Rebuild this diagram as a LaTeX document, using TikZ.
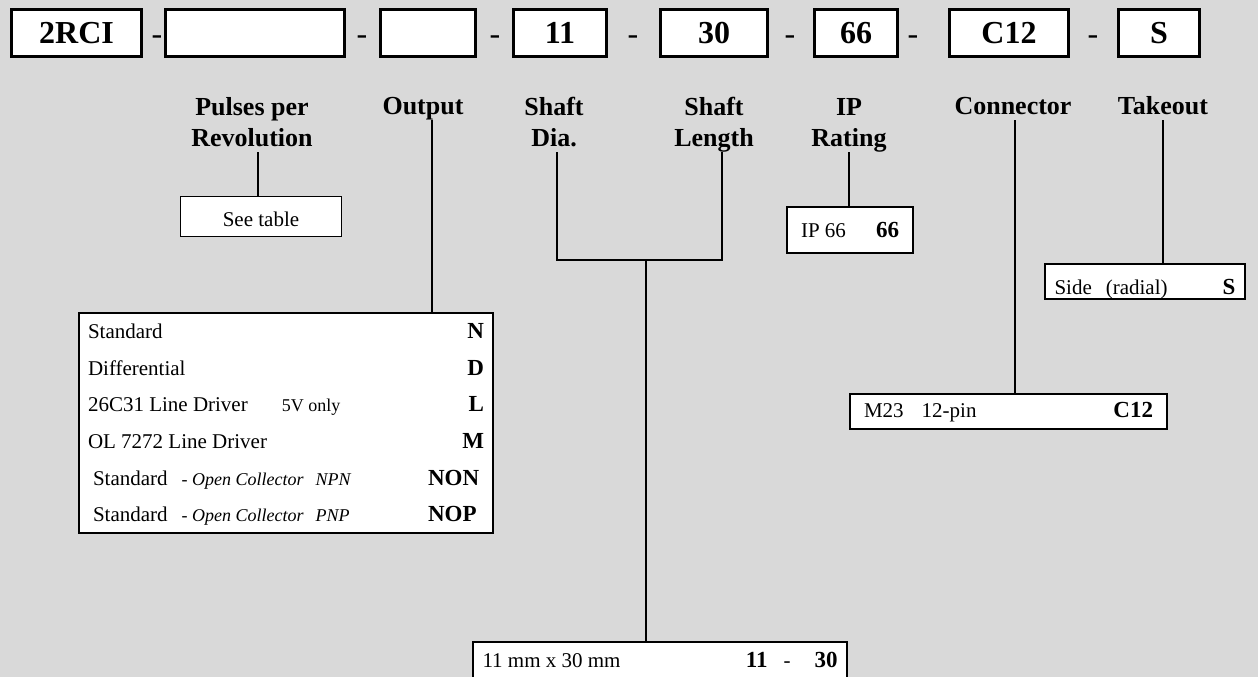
\documentclass[tikz,border=0pt]{standalone}
\usepackage{fontspec}
\setmainfont{Liberation Serif}
\usepackage{array}

\definecolor{sheet}{RGB}{217,217,217}
\newcommand{\setfs}[2]{\fontsize{#1}{#2}\selectfont}
\newcommand{\optcode}[1]{{\setfs{23}{25}\bfseries #1}}

\begin{document}
\begin{tikzpicture}[x=1pt, y=-1pt,
  codebox/.style={draw, line width=3.3pt, fill=white, inner sep=0,
    minimum height=46.5pt, font=\setfs{32}{38}\bfseries},
  sepmark/.style={anchor=base, inner sep=0, font=\setfs{32}{38}},
  fieldlbl/.style={anchor=south, align=center, inner sep=0, text depth=5pt,
    font=\setfs{26}{31}\bfseries},
  optbox/.style={draw, line width=2pt, fill=white, inner ysep=0,
    font=\setfs{21}{25}},
  link/.style={line width=2pt}]

  \fill[sheet] (0,0) rectangle (1258,677);
  \useasboundingbox (0,0) rectangle (1258,677);

  % order code
  \node[codebox, minimum width=130pt] (c1) at (76.5,33) {2RCI};
  \node[codebox, minimum width=179pt] (c2) at (255,33) {};
  \node[codebox, minimum width=95pt] (c3) at (428,33) {};
  \node[codebox, minimum width=93pt] (c4) at (560,33) {11};
  \node[codebox, minimum width=107pt] (c5) at (714,33) {30};
  \node[codebox, minimum width=83pt] (c6) at (856,33) {66};
  \node[codebox, minimum width=119pt] (c7) at (1009,33) {C12};
  \node[codebox, minimum width=81pt] (c8) at (1159,33) {S};

  \node[sepmark] (s1) at (157,45) {-};
  \node[sepmark] (s2) at (362,45) {-};
  \node[sepmark] (s3) at (495,45) {-};
  \node[sepmark] (s4) at (633,45) {-};
  \node[sepmark] (s5) at (790,45) {-};
  \node[sepmark] (s6) at (913,45) {-};
  \node[sepmark] (s7) at (1093,45) {-};

  % field names
  \node[fieldlbl] (lppr) at (252,152) {Pulses per\\Revolution};
  \node[fieldlbl] (lout) at (423,120) {Output};
  \node[fieldlbl] (ldia) at (554,152) {Shaft\\Dia.};
  \node[fieldlbl] (llen) at (714,152) {Shaft\\Length};
  \node[fieldlbl] (lip) at (849,152) {IP\\Rating};
  \node[fieldlbl] (lcon) at (1013,120) {Connector};
  \node[fieldlbl] (ltko) at (1163,120) {Takeout};

  % option boxes
  \node[optbox, line width=1pt, minimum width=161pt,
        text height=30pt, text depth=10pt] (seetab) at (261,216) {See table};
  \node[optbox, inner xsep=14pt, text height=30pt, text depth=16pt]
    (ipbox) at (850,230) {\makebox[98pt]{IP 66\hfill\optcode{66}}};
  \node[optbox, inner xsep=9.5pt, text height=30pt, text depth=5pt]
    (tkobox) at (1145,281.5)
    {\makebox[181pt]{Side\hspace{14pt}(radial)\hfill\optcode{S}}};
  \node[optbox, inner xsep=14pt, text height=23pt, text depth=12pt]
    (conbox) at (1008.5,411.5)
    {\makebox[289pt]{M23\hspace{18pt}12-pin\hfill\optcode{C12}}};
  \node[optbox, inner xsep=9.5pt, text height=25pt, text depth=18pt]
    (shaftbox) at (660,663.5)
    {\makebox[355pt]{11 mm x 30 mm\hfill\optcode{11}\hspace{16pt}-\hspace{24pt}\optcode{30}}};

  \node[optbox, anchor=north west, inner xsep=9pt,
        font=\setfs{21}{36.6}] (outtab) at (78,312) {%
    \begin{tabular*}{396pt}{@{}l@{\extracolsep{\fill}}r@{}}
      Standard & \optcode{N}\\
      Differential & \optcode{D}\\
      26C31 Line Driver\hspace{34pt}{\setfs{18}{20}5V only} & \optcode{L}\\
      OL 7272 Line Driver & \optcode{M}\\
      \hspace{5pt}Standard\hspace{14pt}{\setfs{18}{20}-\ \textit{Open Collector}\hspace{12pt}\textit{NPN}}
        & \makebox[56pt][l]{\optcode{NON}}\\
      \hspace{5pt}Standard\hspace{14pt}{\setfs{18}{20}-\ \textit{Open Collector}\hspace{12pt}\textit{PNP}}
        & \makebox[56pt][l]{\optcode{NOP}}
    \end{tabular*}};

  % connectors
  \draw[link] ([xshift=6pt]lppr.south) -- ([xshift=6pt]lppr.south |- seetab.north);
  \draw[link] ([xshift=9pt]lout.south) -- ([xshift=9pt]lout.south |- outtab.north);
  \coordinate (join) at (646,260);
  \draw[link] ([xshift=3pt]ldia.south) |- (join) -| ([xshift=8pt]llen.south);
  \draw[link] (join) -- (join |- shaftbox.north);
  \draw[link] (lip.south) -- (lip.south |- ipbox.north);
  \draw[link] ([xshift=2pt]lcon.south) -- ([xshift=2pt]lcon.south |- conbox.north);
  \draw[link] (ltko.south) -- (ltko.south |- tkobox.north);
\end{tikzpicture}
\end{document}
